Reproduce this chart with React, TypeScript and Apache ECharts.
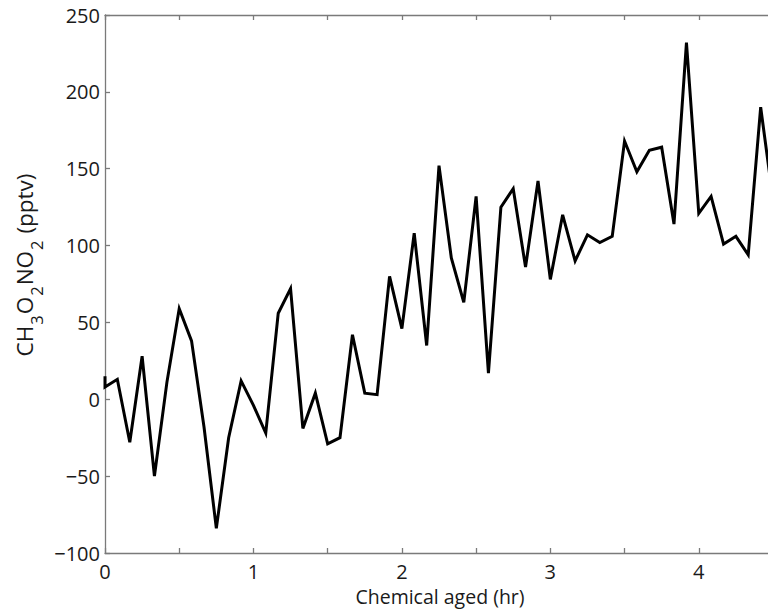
import React, { useEffect, useRef } from "react";
import * as echarts from "echarts";

const times = [
  0, 0, 0.083, 0.167, 0.25, 0.333, 0.417, 0.5, 0.583, 0.667, 0.75, 0.833, 0.917,
  1, 1.083, 1.167, 1.25, 1.333, 1.417, 1.5, 1.583, 1.667, 1.75, 1.833, 1.917,
  2, 2.083, 2.167, 2.25, 2.333, 2.417, 2.5, 2.583, 2.667, 2.75, 2.833, 2.917,
  3, 3.083, 3.167, 3.25, 3.333, 3.417, 3.5, 3.583, 3.667, 3.75, 3.833, 3.917,
  4, 4.083, 4.167, 4.25, 4.333, 4.417, 4.5,
];
const values = [
  15, 8, 13, -28, 28, -50, 11, 59, 38, -18, -84, -25, 12,
  -4, -22, 56, 72, -19, 4, -29, -25, 42, 4, 3, 80,
  46, 108, 35, 152, 92, 63, 132, 17, 125, 137, 86, 142,
  78, 120, 90, 107, 102, 106, 168, 148, 162, 164, 114, 232,
  121, 132, 101, 106, 94, 190, 130,
];
const xLabelTicks = [0, 1, 2, 3, 4];
const xAxisTitle = "Chemical aged (hr)";

const FONT = "'Open Sans', 'Noto Sans', sans-serif";
const AXIS_COLOR = "#7a7a7a";
const TEXT_COLOR = "#1a1a1a";

export default function App() {
  const ref = useRef<HTMLDivElement>(null);
  useEffect(() => {
    if (!ref.current) return;
    const chart = echarts.init(ref.current, null, { renderer: "svg" });
    const data = times.map((t, i) => [t, values[i]]);
    const axisLine = { show: true, onZero: false, lineStyle: { color: AXIS_COLOR, width: 1.3 } };
    const tick = { show: true, inside: true, length: 5, lineStyle: { color: AXIS_COLOR, width: 1.3 } };
    chart.setOption({
      animation: false,
      backgroundColor: "#ffffff",
      grid: { left: 105, top: 15, right: 2.3, bottom: 58, containLabel: false },
      xAxis: [
        {
          type: "value",
          min: 0,
          max: 4.5,
          interval: 0.5,
          position: "bottom",
          axisLine,
          axisTick: tick,
          splitLine: { show: false },
          axisLabel: {
            color: TEXT_COLOR,
            fontFamily: FONT,
            fontSize: 20,
            margin: 8,
            showMaxLabel: true,
            formatter: (v: number) => (xLabelTicks.indexOf(v) >= 0 ? String(v) : ""),
          },
        },
        {
          type: "value",
          min: 0,
          max: 4.5,
          interval: 0.5,
          position: "top",
          axisLine,
          axisTick: tick,
          splitLine: { show: false },
          axisLabel: { show: false },
        },
      ],
      yAxis: [
        {
          type: "value",
          min: -100,
          max: 250,
          interval: 50,
          position: "left",
          axisLine,
          axisTick: tick,
          splitLine: { show: false },
          axisLabel: {
            color: TEXT_COLOR,
            fontFamily: FONT,
            fontSize: 20,
            margin: 5,
            formatter: (v: number) => (v < 0 ? "\u2212" + Math.abs(v) : String(v)),
          },
        },
        {
          type: "value",
          min: -100,
          max: 250,
          interval: 50,
          position: "right",
          axisLine,
          axisTick: tick,
          splitLine: { show: false },
          axisLabel: { show: false },
        },
      ],
      graphic: [
        {
          type: "text",
          x: 440,
          y: 596,
          style: {
            text: xAxisTitle,
            fontFamily: FONT,
            fontSize: 19.5,
            fill: TEXT_COLOR,
            align: "center",
            verticalAlign: "middle",
          },
        },
        {
          type: "text",
          x: 24,
          y: 265,
          rotation: Math.PI / 2,
          style: {
            text: "{a|CH}{s|3}{a|O}{s|2}{a|NO}{s|2}{a| (pptv)}",
            fontFamily: FONT,
            fontSize: 22.5,
            fill: TEXT_COLOR,
            align: "center",
            verticalAlign: "middle",
            rich: {
              a: { fontFamily: FONT, fontSize: 22.5, fill: TEXT_COLOR },
              s: { fontFamily: FONT, fontSize: 16.5, fill: TEXT_COLOR, padding: [25, 1, 0, 1] },
            },
          },
        },
      ],
      series: [
        {
          type: "line",
          data,
          showSymbol: false,
          symbol: "none",
          lineStyle: { color: "#000000", width: 3, join: "miter" },
          clip: true,
          xAxisIndex: 0,
          yAxisIndex: 0,
        },
      ],
    });
    return () => chart.dispose();
  }, []);
  return (
    <div
      ref={ref}
      style={{ position: "fixed", left: 0, top: 0, width: 776, height: 611, background: "#fff" }}
    />
  );
}
